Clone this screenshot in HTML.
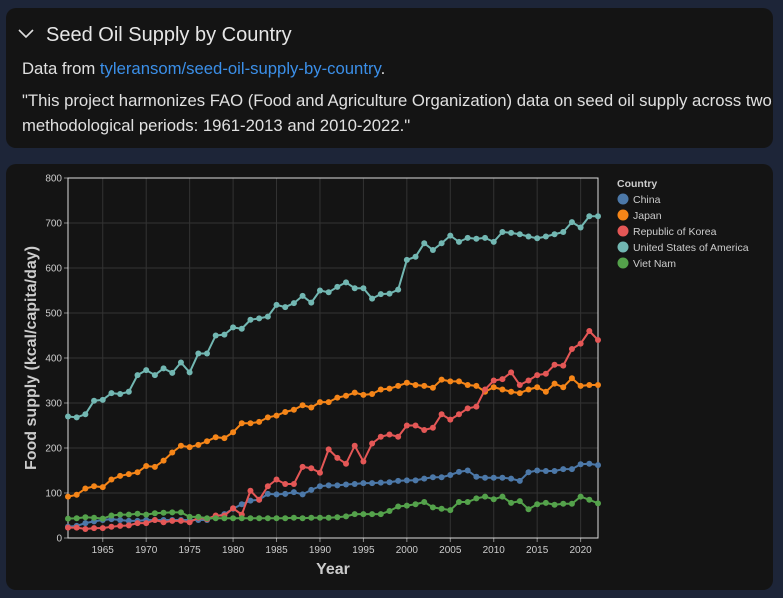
<!DOCTYPE html>
<html><head><meta charset="utf-8"><style>
html,body{margin:0;padding:0;background:#1d2538;width:783px;height:598px;overflow:hidden;font-family:"Liberation Sans","DejaVu Sans",sans-serif;}
.card{position:absolute;left:6px;width:767px;background:#141414;border-radius:10px;}
#hdr{top:8px;height:140px;}
#chartcard{top:164px;height:426px;}
.title{position:absolute;left:40px;top:16px;font-size:20px;color:#e6e6e6;}
.chev{position:absolute;left:12px;top:21px;width:16px;height:10px;}
.p{position:absolute;left:16px;font-size:16.7px;color:#e0e0e0;line-height:25px;}
a{color:#3b8fe8;text-decoration:none;}
</style></head><body>
<div class="card" id="hdr">
<svg class="chev" viewBox="0 0 16 10"><path d="M1 1 L8 8 L15 1" stroke="#ddd" stroke-width="1.6" fill="none"/></svg>
<div class="title">Seed Oil Supply by Country</div>
<div class="p" style="top:48px">Data from <a>tyleransom/seed-oil-supply-by-country</a>.</div>
<div class="p" style="top:80px;width:760px">"This project harmonizes FAO (Food and Agriculture Organization) data on seed oil supply across two methodological periods: 1961-2013 and 2010-2022."</div>
</div>
<div class="card" id="chartcard"></div>
<svg id="chart" width="783" height="598" style="position:absolute;left:0;top:0"></svg>
<script>
const years=[];for(let y=1961;y<=2022;y++)years.push(y);
const seriesNames=["China","Japan","Republic of Korea","United States of America","Viet Nam"];
const colors=["#4c78a8","#f58518","#e45756","#72b7b2","#54a24b"];
const china=[25,27,33,37,40,42,40,38,38,40,40,40,40,40,40,40,40,48,53,65,75,83,85,98,97,98,102,97,107,115,117,117,119,120,122,122,123,124,127,128,128,132,135,135,140,147,150,136,134,134,134,132,127,146,150,149,149,153,153,164,165,162];
const japan=[92,96,110,115,113,130,138,142,146,160,158,172,190,205,202,207,215,224,222,235,255,255,258,268,272,280,285,295,290,302,302,312,316,323,318,320,330,332,338,345,340,338,334,352,348,348,340,338,325,335,330,325,322,330,335,325,343,335,355,338,340,340];
const korea=[23,23,20,22,22,25,27,28,33,33,40,35,38,38,35,45,42,50,50,66,52,105,85,115,130,120,120,158,155,145,197,178,165,205,170,210,225,230,225,250,250,240,245,275,263,275,288,292,330,350,353,368,340,350,362,365,385,383,420,432,460,440];
const usa=[270,268,275,305,307,322,320,325,362,373,362,377,367,390,368,410,410,450,452,468,465,485,488,492,518,513,522,538,523,550,546,558,568,555,555,532,542,543,552,618,625,655,640,655,672,658,667,665,667,658,680,678,675,670,666,670,675,680,702,690,715,715];
const vietnam=[43,44,46,45,43,50,52,52,54,52,55,56,57,57,47,47,44,44,44,44,44,44,44,44,44,44,45,44,45,45,45,46,48,53,53,53,53,60,70,72,75,80,68,65,62,80,80,88,92,86,92,78,82,64,75,78,74,76,76,92,85,77];
const allSeries=[china,japan,korea,usa,vietnam];
const yTicks=[0,100,200,300,400,500,600,700,800];
const xTicks=[1965,1970,1975,1980,1985,1990,1995,2000,2005,2010,2015,2020];
const X0=68,X1=598,Y0=538,Y1=178;
const xs=v=>X0+(v-1961)/(2022-1961)*(X1-X0);
const ys=v=>Y0-(v/800)*(Y0-Y1);
const svg=document.getElementById('chart');const NS="http://www.w3.org/2000/svg";
function mk(t,a,p){const e=document.createElementNS(NS,t);for(const k in a)e.setAttribute(k,a[k]);(p||svg).appendChild(e);return e;}
const grid=mk('g',{});


yTicks.forEach(v=>{
 const l=mk('line',{x1:X0,x2:X1,y1:ys(v),y2:ys(v),stroke:'#333',"stroke-width":1},grid);
 
 
 const t=mk('text',{x:X0-6,y:ys(v)+3.5,"text-anchor":"end","font-size":10,fill:'#ccc'});t.textContent=v;
 
 
 mk('line',{x1:X0-4,x2:X0,y1:ys(v),y2:ys(v),stroke:'#888'});
});
xTicks.forEach(v=>{
 const l=mk('line',{x1:xs(v),x2:xs(v),y1:Y1,y2:Y0,stroke:'#333'},grid);
 
 
 const t=mk('text',{x:xs(v),y:Y0+15,"text-anchor":"middle","font-size":10,fill:'#ccc'});t.textContent=v;
 
 
 mk('line',{x1:xs(v),x2:xs(v),y1:Y0,y2:Y0+4,stroke:'#888'});
});
mk('rect',{x:X0,y:Y1,width:X1-X0,height:Y0-Y1,fill:'none',stroke:'#ddd',"stroke-width":1});
allSeries.forEach((s,i)=>{
 const g=mk('g',{});
 
 
 mk('polyline',{points:s.map((v,j)=>xs(years[j])+','+ys(v)).join(' '),fill:'none',stroke:colors[i],"stroke-width":2},g);
 s.forEach((v,j)=>{const c=mk('circle',{cx:xs(years[j]),cy:ys(v),r:3,fill:colors[i]},g);
  
  });
});
let t=mk('text',{x:333,y:574,"text-anchor":"middle","font-size":16,"font-weight":"bold",fill:'#ccc'});t.textContent='Year';


t=mk('text',{x:0,y:0,"text-anchor":"middle","font-size":16,"font-weight":"bold",fill:'#ccc',transform:'translate(36,358) rotate(-90)'});t.textContent='Food supply (kcal/capita/day)';


const lg=mk('g',{});


t=mk('text',{x:617,y:187,"font-size":10.5,"font-weight":"bold",fill:'#ccc'},lg);t.textContent='Country';
seriesNames.forEach((n,i)=>{
 const e=mk('g',{},lg);
 
 
 mk('circle',{cx:623,cy:199+i*16,r:5.5,fill:colors[i]},e);
 const tt=mk('text',{x:633,y:203+i*16,"font-size":10.5,fill:'#ccc'},e);tt.textContent=n;
});
</script>
</body></html>
